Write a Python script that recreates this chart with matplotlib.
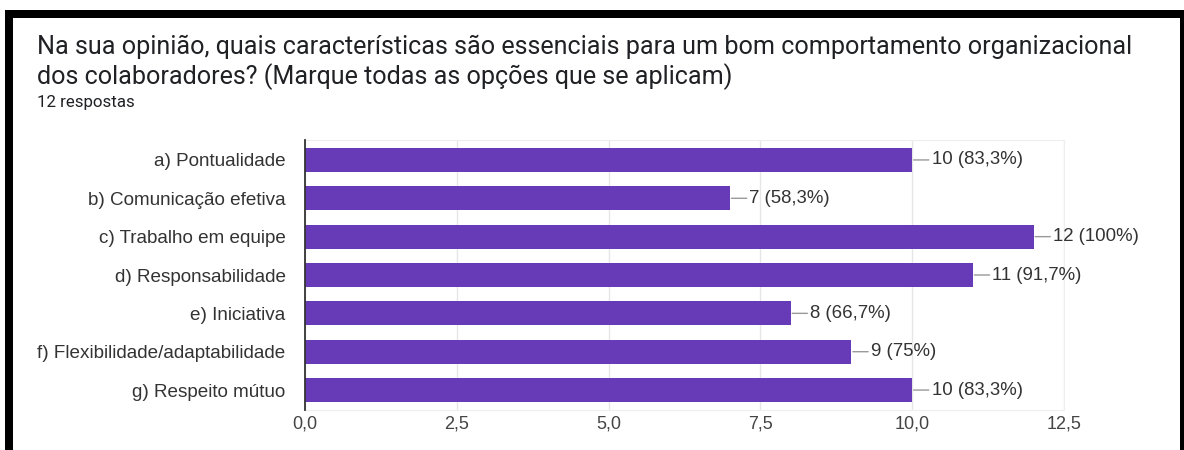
import matplotlib
matplotlib.use("Agg")
import matplotlib.pyplot as plt
from matplotlib.patches import Rectangle

categories = [
    "a) Pontualidade",
    "b) Comunicação efetiva",
    "c) Trabalho em equipe",
    "d) Responsabilidade",
    "e) Iniciativa",
    "f) Flexibilidade/adaptabilidade",
    "g) Respeito mútuo",
]
counts = [10, 7, 12, 11, 8, 9, 10]
value_labels = ["10 (83,3%)", "7 (58,3%)", "12 (100%)", "11 (91,7%)",
                "8 (66,7%)", "9 (75%)", "10 (83,3%)"]
xticks = [0, 2.5, 5, 7.5, 10, 12.5]
xtick_labels = ["0,0", "2,5", "5,0", "7,5", "10,0", "12,5"]
title_line1 = "Na sua opinião, quais características são essenciais para um bom comportamento organizacional"
title_line2 = "dos colaboradores? (Marque todas as opções que se aplicam)"
subtitle = "12 respostas"

W, H = 1184, 450
fig = plt.figure(figsize=(W / 100, H / 100), dpi=100)
fig.patch.set_facecolor("white")

def px(x0, y0, w, h):
    return (x0 / W, 1 - (y0 + h) / H, w / W, h / H)

# Frame (black borders of the screenshot)
for (x0, y0, w, h) in [(5, 10, 1179, 8), (5, 10, 8, 440), (1180, 10, 4, 440)]:
    l, b, ww, hh = px(x0, y0, w, h)
    fig.patches.append(Rectangle((l, b), ww, hh, transform=fig.transFigure,
                                 facecolor="black", edgecolor="none", zorder=10))

# Title block
fig.text(37 / W, 1 - 47 / H, title_line1, family="Roboto", fontsize=18.1,
         color="#202124", va="center", ha="left")
fig.text(37 / W, 1 - 77 / H, title_line2, family="Roboto", fontsize=18.1,
         color="#202124", va="center", ha="left")
fig.text(37 / W, 1 - 103 / H, subtitle, family="Roboto", fontsize=12.2,
         color="#202124", va="center", ha="left")

ax = fig.add_axes(px(305, 140, 759, 270))
ypos = list(range(len(categories)))
ax.barh(ypos, counts, height=0.63, color="#673AB7", zorder=3)
ax.set_xlim(0, 12.5)
ax.set_ylim(len(categories) - 0.48, -0.52)
ax.set_yticks(ypos)
ax.set_yticklabels(categories, family="Liberation Sans", fontsize=13.6, color="#333333")
ax.set_xticks(xticks)
ax.set_xticklabels(xtick_labels, family="Liberation Sans", fontsize=13, color="#444444")
ax.tick_params(axis="both", length=0)
ax.tick_params(axis="y", pad=14)
ax.tick_params(axis="x", pad=4)
ax.grid(axis="x", color="#e6e6e6", linewidth=1, zorder=0)
for s in ["top", "right", "bottom"]:
    ax.spines[s].set_color("#eeeeee")
ax.spines["left"].set_color("#333333")
ax.spines["left"].set_linewidth(1.3)
ax.spines["left"].set_zorder(4)

for y, v, lab in zip(ypos, counts, value_labels):
    ax.annotate(lab, xy=(v, y), xytext=(14, 0), textcoords="offset points",
                va="center", ha="left", family="Liberation Sans", fontsize=13.4,
                color="#333333",
                arrowprops=dict(arrowstyle="-", color="#999999", lw=1,
                                shrinkA=0, shrinkB=1))

fig.savefig("out.png", dpi=100, facecolor="white")
